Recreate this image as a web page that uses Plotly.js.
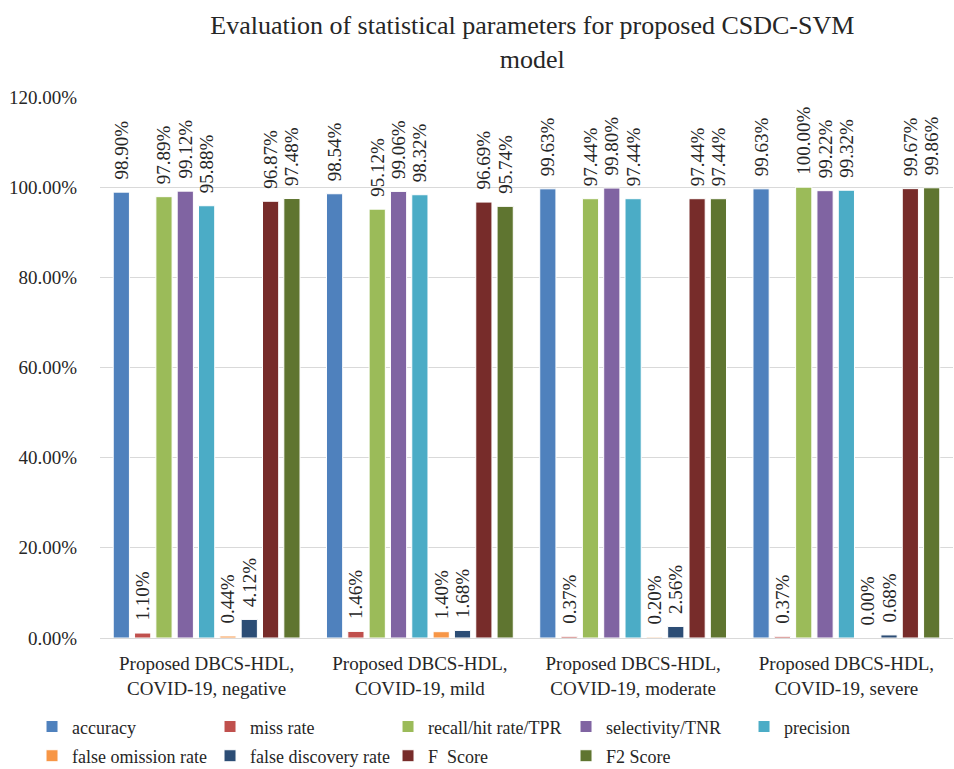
<!DOCTYPE html>
<html><head><meta charset="utf-8">
<script src="https://cdn.plot.ly/plotly-3.0.1.min.js"></script>
<style>body{margin:0;background:#fff}#chart{width:954px;height:769px}</style>
</head><body><div id="chart"></div>
<script>
const categories = ["Proposed DBCS-HDL,<br>COVID-19, negative","Proposed DBCS-HDL,<br>COVID-19, mild","Proposed DBCS-HDL,<br>COVID-19, moderate","Proposed DBCS-HDL,<br>COVID-19, severe"];
const seriesNames = ["accuracy","miss rate","recall/hit rate/TPR","selectivity/TNR","precision","false omission rate","false discovery rate","F\u00a0 Score","F2 Score"];
const accuracy = [98.90, 98.54, 99.63, 99.63];
const missRate = [1.10, 1.46, 0.37, 0.37];
const recall = [97.89, 95.12, 97.44, 100.00];
const selectivity = [99.12, 99.06, 99.80, 99.22];
const precision = [95.88, 98.32, 97.44, 99.32];
const falseOmission = [0.44, 1.40, 0.20, 0.00];
const falseDiscovery = [4.12, 1.68, 2.56, 0.68];
const fScore = [96.87, 96.69, 97.44, 99.67];
const f2Score = [97.48, 95.74, 97.44, 99.86];
const colors = ["#4F81BD","#C0504D","#9BBB59","#8064A2","#4BACC6","#F79646","#2C4D75","#772C2A","#5F7530"];
const seriesValues = [accuracy, missRate, recall, selectivity, precision, falseOmission, falseDiscovery, fScore, f2Score];
const yTicks = [0,20,40,60,80,100,120];

const font = "Liberation Serif";
const txtColor = "#262626";
const traces = seriesValues.map((vals,i)=>({
  type:"bar", name:seriesNames[i], x:categories, y:vals,
  legend: i < 5 ? "legend" : "legend2",
  marker:{color:colors[i], line:{color:"#ffffff", width:1}},
  text: vals.map(v=>"\u00a0\u00a0"+v.toFixed(2)+"%"), textposition:"outside", textangle:-90,
  constraintext:"none", cliponaxis:false,
  textfont:{family:font, size:19, color:txtColor},
  hoverinfo:"skip"
}));

const legendBase = {orientation:"h", xanchor:"left", x:-0.0797, yanchor:"top", entrywidth:133, entrywidthmode:"pixels",
  font:{family:font, size:18, color:txtColor}, itemwidth:30, tracegroupgap:0, traceorder:"normal", bgcolor:"rgba(0,0,0,0)"};

const layout = {
  width:954, height:769,
  margin:{l:100, r:1, t:97, b:131, autoexpand:false},
  paper_bgcolor:"#fff", plot_bgcolor:"#fff",
  font:{family:font, color:txtColor},
  title:{text:"Evaluation of statistical parameters for proposed CSDC-SVM<br>model", font:{family:font, size:26, color:txtColor}, x:0.558, xanchor:"center", yref:"container", y:0.956, yanchor:"middle"},
  barmode:"group", bargap:0.1, bargroupgap:0.24,
  xaxis:{tickfont:{family:font, size:19, color:txtColor}, showgrid:false, showline:false, ticks:"", ticklen:0, ticklabelstandoff:12},
  yaxis:{range:[0,120], tickvals:yTicks, ticktext:yTicks.map(v=>v.toFixed(2)+"%"), tickfont:{family:font, size:19, color:txtColor},
         showgrid:true, gridcolor:"#d9d9d9", gridwidth:1, zeroline:true, zerolinecolor:"#d9d9d9", zerolinewidth:1, showline:false, ticks:"", ticklabelstandoff:22},
  showlegend:true,
  legend: Object.assign({}, legendBase, {y:-0.13}),
  legend2: Object.assign({}, legendBase, {y:-0.184})
};
Plotly.newPlot("chart", traces, layout, {staticPlot:true});
</script></body></html>
